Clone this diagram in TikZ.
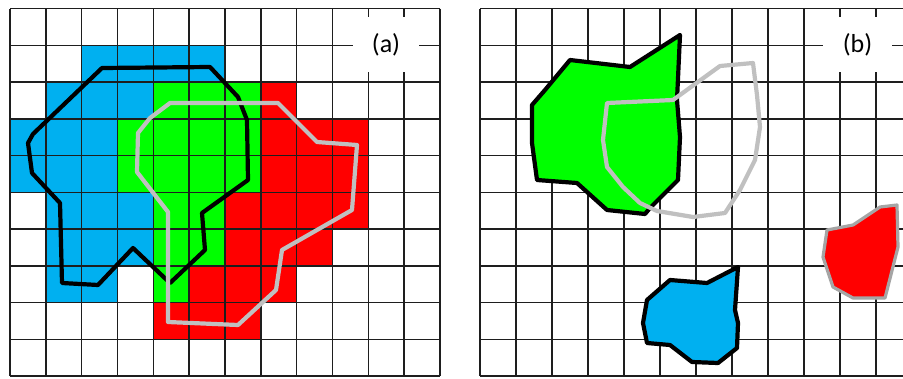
\documentclass[tikz,border=0pt]{standalone}
\usepackage{fontspec}
\setmainfont{Carlito}
\definecolor{cblue}{RGB}{0,176,240}
\definecolor{cgreen}{RGB}{0,255,0}
\definecolor{cred}{RGB}{255,0,0}
\definecolor{cgrey}{RGB}{192,192,192}
\definecolor{cedge}{RGB}{165,165,165}
\definecolor{cline}{RGB}{30,30,30}
\begin{document}
\begin{tikzpicture}[x=1pt,y=-1pt,
  gridline/.style={line width=1.5pt, cline},
  outline/.style={line width=4.2pt, line join=round, line cap=round},
  labelbox/.style={fill=white, inner sep=0pt, minimum width=66pt, minimum height=55pt, font=\fontsize{26}{26}\selectfont}]
\useasboundingbox (0,0) rectangle (903,378);
\clip (0,0) rectangle (903,378);
\fill[white] (0,0) rectangle (903,378);
% ---------- panel (a): cells ----------
\foreach \r/\a/\b in {1/2/5, 2/1/3, 3/0/2, 4/0/2, 5/1/3, 6/1/3, 7/1/2}
  \fill[cblue] ({10+35.833*\a},{8.5+36.75*\r}) rectangle ({10+35.833*(\b+1)},{8.5+36.75*(\r+1)});
\foreach \r/\a/\b in {2/4/6, 3/3/6, 4/3/6, 5/4/5, 6/4/5, 7/4/4}
  \fill[cgreen] ({10+35.833*\a},{8.5+36.75*\r}) rectangle ({10+35.833*(\b+1)},{8.5+36.75*(\r+1)});
\foreach \r/\a/\b in {2/7/7, 3/7/9, 4/7/9, 5/6/9, 6/6/8, 7/5/7, 8/4/6}
  \fill[cred] ({10+35.833*\a},{8.5+36.75*\r}) rectangle ({10+35.833*(\b+1)},{8.5+36.75*(\r+1)});
% grid (a)
\foreach \i in {0,...,12}
  \draw[gridline] ({10+35.833*\i},8.5) -- ({10+35.833*\i},376);
\foreach \j in {0,...,10}
  \draw[gridline] (10,{8.5+36.75*\j}) -- (440,{8.5+36.75*\j});
% black outline (a)
\draw[outline, black] (102,68) -- (210,67) -- (238,97) -- (247,120) -- (248,180)
  -- (202,213) -- (205,250) -- (170,283) -- (133,248) -- (98,285) -- (62,283)
  -- (60,203) -- (32,173) -- (28,143) -- (33,134) -- cycle;
% grey outline (a)
\draw[outline, cgrey] (170,103) -- (278,103) -- (317,142) -- (357,145) -- (352,210)
  -- (282,250) -- (276,290) -- (238,325) -- (168,322) -- (168,212) -- (137,172)
  -- (138,133) -- (150,118) -- cycle;
\node[labelbox] (la) at (386,44.5) {(a)};
% ---------- panel (b) ----------
\foreach \i in {0,...,12}
  \draw[gridline] ({480+36*\i},8.5) -- ({480+36*\i},376);
\foreach \j in {0,...,10}
  \draw[gridline] (480,{8.5+36.75*\j}) -- (912,{8.5+36.75*\j});
\draw[outline, black, fill=cgreen] (570,60) -- (630,67) -- (680,35) -- (677,100)
  -- (680,137) -- (678,180) -- (650,208) -- (645,214) -- (607,210) -- (577,183)
  -- (537,180) -- (532,143) -- (532,105) -- (545,90) -- cycle;
\draw[outline, cgrey] (607,103) -- (673,100) -- (720,66) -- (753,63) -- (757,95)
  -- (760,127) -- (755,160) -- (740,190) -- (725,213) -- (693,217) -- (657,211)
  -- (640,203) -- (623,187) -- (607,167) -- (603,140) -- cycle;
\draw[outline, black, fill=cblue] (670,280) -- (707,283) -- (738,267) -- (735,310)
  -- (738,323) -- (737,348) -- (718,363) -- (692,362) -- (670,345) -- (647,343)
  -- (643,323) -- (647,300) -- cycle;
\draw[line width=3.2pt, line join=round, cedge, fill=cred] (827,230) -- (853,225)
  -- (880,207) -- (897,205) -- (898,247) -- (885,298) -- (853,298) -- (833,287)
  -- (823,257) -- cycle;
\node[labelbox, minimum width=69pt] (lb) at (857.5,44.5) {(b)};
\end{tikzpicture}
\end{document}
